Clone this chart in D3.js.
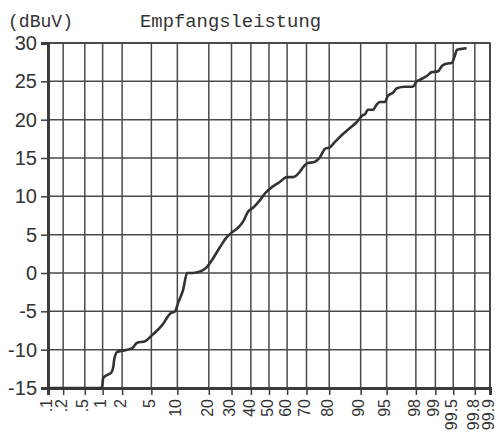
<!DOCTYPE html>
<html>
<head>
<meta charset="utf-8">
<script src="https://cdn.jsdelivr.net/npm/d3@7"></script>
<style>
  html, body { margin: 0; padding: 0; background: #fff; }
  svg { display: block; }
</style>
</head>
<body>
<svg id="chart" width="496" height="438"></svg>
<script>
// Cumulative distribution of received level, plotted on normal probability paper
const yTicks = [-15, -10, -5, 0, 5, 10, 15, 20, 25, 30];
const yTickLabels = ["-15", "-10", "-5", "0", "5", "10", "15", "20", "25", "30"];
const xTickPct = [0.1, 0.2, 0.5, 1, 2, 5, 10, 20, 30, 40, 50, 60, 70, 80, 90, 95, 98, 99, 99.5, 99.8, 99.9];
const xTickLabels = [".1", ".2", ".5", "1", "2", "5", "10", "20", "30", "40", "50", "60", "70", "80", "90", "95", "98", "99", "99.5", "99.8", "99.9"];

// Cumulative percentage (x) and level in dBuV (y)
const levelPct = [0.1, 0.91, 0.98, 1.02, 1.18, 1.37, 1.47, 1.52, 1.69, 1.87, 2.79, 3.26, 4.16, 5.11, 6.76, 8.34, 9.46, 10.19, 11.49, 12.61,
  14.43, 17.47, 19.32, 21.30, 24.70, 27.86, 30.26, 33.25, 35.83, 38.47, 41.17, 45.0, 47.8, 52.2, 56.1, 59.9, 63.1, 66.7, 68.3, 70.2,
  74.0, 76.2, 78.3, 80.3, 82.2, 84.6, 87.1, 89.05, 90.54, 91.0, 91.67, 92.69, 93.42, 93.94, 94.74, 95.17, 95.84, 96.31, 97.12, 97.78,
  98.06, 98.25, 98.63, 98.86, 99.09, 99.22, 99.35, 99.47, 99.53, 99.57, 99.62, 99.70];
const levelDb = [-15, -15, -14.9, -13.7, -13.3, -13.0, -12.3, -11.3, -10.3, -10.2, -9.8, -9.1, -8.9, -8.1, -6.8, -5.3, -5.0, -3.9, -2.2, 0.0,
  0.0, 0.3, 0.8, 1.7, 3.4, 4.7, 5.3, 5.9, 6.7, 8.0, 8.5, 9.5, 10.4, 11.3, 11.9, 12.5, 12.5, 13.2, 13.8, 14.3,
  14.5, 15.1, 16.2, 16.4, 17.1, 18.0, 18.9, 19.7, 20.6, 20.7, 21.3, 21.3, 22.0, 22.3, 22.3, 23.1, 23.5, 24.1, 24.3, 24.3,
  25.0, 25.2, 25.7, 26.2, 26.3, 27.0, 27.3, 27.4, 28.3, 29.1, 29.2, 29.3];

// Inverse of the standard normal CDF (Acklam's rational approximation)
function probit(p) {
  const a = [-3.969683028665376e+01, 2.209460984245205e+02, -2.759285104469687e+02, 1.383577518672690e+02, -3.066479806614716e+01, 2.506628277459239e+00];
  const b = [-5.447609879822406e+01, 1.615858368580409e+02, -1.556989798598866e+02, 6.680131188771972e+01, -1.328068155288572e+01];
  const c = [-7.784894002430293e-03, -3.223964580411365e-01, -2.400758277161838e+00, -2.549732539343734e+00, 4.374664141464968e+00, 2.938163982698783e+00];
  const d = [7.784695709041462e-03, 3.224671290700398e-01, 2.445134137142996e+00, 3.754408661907416e+00];
  const pl = 0.02425, ph = 1 - pl;
  let q, r;
  if (p < pl) {
    q = Math.sqrt(-2 * Math.log(p));
    return (((((c[0]*q+c[1])*q+c[2])*q+c[3])*q+c[4])*q+c[5]) / ((((d[0]*q+d[1])*q+d[2])*q+d[3])*q+1);
  } else if (p <= ph) {
    q = p - 0.5; r = q * q;
    return (((((a[0]*r+a[1])*r+a[2])*r+a[3])*r+a[4])*r+a[5])*q / (((((b[0]*r+b[1])*r+b[2])*r+b[3])*r+b[4])*r+1);
  } else {
    q = Math.sqrt(-2 * Math.log(1 - p));
    return -(((((c[0]*q+c[1])*q+c[2])*q+c[3])*q+c[4])*q+c[5]) / ((((d[0]*q+d[1])*q+d[2])*q+d[3])*q+1);
  }
}
const zOf = pct => probit(pct / 100);

const plot = { left: 48, right: 490, top: 43, bottom: 388 };
const ink = "#3c3c3c";

const x = d3.scaleLinear().domain([zOf(0.1), zOf(99.9)]).range([plot.left, plot.right]);
const y = d3.scaleLinear().domain([-15, 30]).range([plot.bottom, plot.top]);

const svg = d3.select("#chart");

// Grid
const grid = svg.append("g").attr("stroke", "#4a4a4a").attr("stroke-width", 1.5);
grid.selectAll("line.v").data(xTickPct).join("line")
  .attr("class", "v")
  .attr("x1", d => x(zOf(d))).attr("x2", d => x(zOf(d)))
  .attr("y1", plot.top).attr("y2", plot.bottom);
grid.selectAll("line.h").data(yTicks).join("line")
  .attr("class", "h")
  .attr("x1", plot.left).attr("x2", plot.right)
  .attr("y1", d => y(d)).attr("y2", d => y(d));

// Y axis
const yAxis = d3.axisLeft(y).tickValues(yTicks).tickSize(7).tickPadding(4)
  .tickFormat((d, i) => yTickLabels[i]);
const gy = svg.append("g").attr("transform", `translate(${plot.left},0)`).call(yAxis);
gy.select(".domain").attr("stroke", ink).attr("stroke-width", 3);
gy.selectAll(".tick line").attr("stroke", ink).attr("stroke-width", 1.5);
gy.selectAll(".tick text")
  .attr("fill", "#333")
  .style("font-family", "'Liberation Sans Narrow', 'Liberation Sans', Arial, sans-serif")
  .style("font-size", "20px");

// X axis (probability scale)
const xAxis = d3.axisBottom(x).tickValues(xTickPct.map(zOf)).tickSize(7)
  .tickFormat((d, i) => xTickLabels[i]);
const gx = svg.append("g").attr("transform", `translate(0,${plot.bottom})`).call(xAxis);
gx.select(".domain").attr("stroke", ink).attr("stroke-width", 3);
gx.selectAll(".tick line").attr("stroke", ink).attr("stroke-width", 1.5);
gx.selectAll(".tick text")
  .attr("fill", "#333")
  .attr("transform", "rotate(-90)")
  .attr("x", -11).attr("y", 0).attr("dy", "0.2em")
  .attr("text-anchor", "end")
  .style("font-family", "'Liberation Sans', Arial, sans-serif")
  .style("font-size", "16px");

// Frame top and right
svg.append("path")
  .attr("d", `M${plot.left},${plot.top}H${plot.right}V${plot.bottom}`)
  .attr("fill", "none").attr("stroke", ink).attr("stroke-width", 1.6);

// Distribution curve
const pts = levelPct.map((p, i) => [x(zOf(p)), y(levelDb[i])]);
svg.append("path")
  .attr("d", d3.line().curve(d3.curveMonotoneX)(pts))
  .attr("fill", "none").attr("stroke", "#333").attr("stroke-width", 2.6)
  .attr("stroke-linejoin", "round").attr("stroke-linecap", "round");

// Headings
const mono = "'Liberation Mono', 'DejaVu Sans Mono', monospace";
svg.append("text").attr("x", 8).attr("y", 27)
  .attr("textLength", 65).attr("lengthAdjust", "spacingAndGlyphs")
  .style("font-family", mono).style("font-size", "18px").attr("fill", "#333")
  .text("(dBuV)");
svg.append("text").attr("x", 140).attr("y", 27)
  .attr("textLength", 181).attr("lengthAdjust", "spacingAndGlyphs")
  .style("font-family", mono).style("font-size", "18px").attr("fill", "#333")
  .text("Empfangsleistung");
</script>
</body>
</html>
